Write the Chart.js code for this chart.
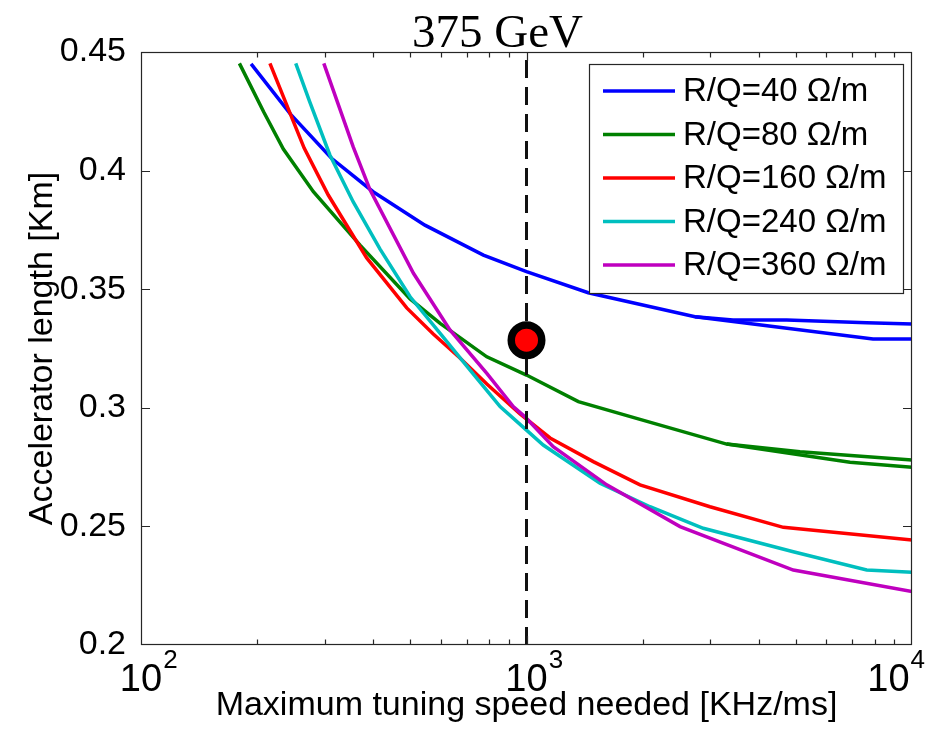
<!DOCTYPE html>
<html>
<head>
<meta charset="utf-8">
<script src="https://cdn.jsdelivr.net/npm/chart.js@4/dist/chart.umd.min.js"></script>
<style>
html,body{margin:0;padding:0;background:#fff;}
#wrap{width:937px;height:738px;}
</style>
</head>
<body>
<div id="wrap"><canvas id="c" width="937" height="738"></canvas></div>
<script>
// ---------- text ----------
const titleText = '375 GeV';
const xAxisTitle = 'Maximum tuning speed needed [KHz/ms]';
const yAxisTitle = 'Accelerator length [Km]';
const seriesLabels = ['R/Q=40 \u03A9/m', 'R/Q=80 \u03A9/m', 'R/Q=160 \u03A9/m', 'R/Q=240 \u03A9/m', 'R/Q=360 \u03A9/m'];

// ---------- ticks ----------
const xTickValues = [100, 1000, 10000];
const xTickBase = '10';
const xTickExponents = ['2', '3', '4'];
const yTickValues = [0.2, 0.25, 0.3, 0.35, 0.4, 0.45];
const yTickLabels = ['0.2', '0.25', '0.3', '0.35', '0.4', '0.45'];

// ---------- data ----------
// R/Q = 40
const rq40X  = [193, 244.5, 312, 400, 545, 773, 1000, 1446, 2736, 3433, 4732, 7630, 10000];
const rq40Y  = [0.445, 0.4237, 0.4052, 0.3911, 0.377, 0.3644, 0.3574, 0.3485, 0.3384, 0.337, 0.337, 0.3359, 0.3353];
const rq40bX = [2736, 7923, 10000];
const rq40bY = [0.3384, 0.329, 0.329];
// R/Q = 80
const rq80X  = [180, 208, 234, 280, 370, 499, 597, 789, 1000, 1363, 1970, 3305, 5123, 10000];
const rq80Y  = [0.4452, 0.4248, 0.4091, 0.3911, 0.3686, 0.3459, 0.3356, 0.3215, 0.3138, 0.3026, 0.2951, 0.2847, 0.2815, 0.278];
const rq80bX = [3305, 6906, 10000];
const rq80bY = [0.2847, 0.277, 0.2749];
// R/Q = 160
const rq160X = [216, 243.5, 265, 306, 385, 489, 573, 672, 789, 962, 1151, 1490, 1970, 2992, 4637, 10000];
const rq160Y = [0.4452, 0.4242, 0.4095, 0.3897, 0.3632, 0.3421, 0.3311, 0.321, 0.31, 0.2974, 0.2873, 0.2773, 0.2675, 0.2583, 0.2496, 0.2443];
// R/Q = 240
const rq240X = [252, 274, 309, 355, 417, 499, 597, 714, 854, 1000, 1105, 1551, 2091, 2874, 4921, 7630, 10000];
const rq240Y = [0.4452, 0.429, 0.4066, 0.3869, 0.3669, 0.3468, 0.3314, 0.3159, 0.3005, 0.2906, 0.2843, 0.2682, 0.2583, 0.2492, 0.2393, 0.2316, 0.2307];
// R/Q = 360
const rq360X = [298, 355, 393, 509, 633, 789, 924, 991, 1173, 1615, 2502, 4921, 10000];
const rq360Y = [0.4452, 0.4101, 0.3918, 0.3567, 0.3328, 0.3145, 0.3005, 0.2962, 0.2836, 0.2675, 0.2499, 0.2316, 0.2225];

// reference line and design point
const refLineX = [1000, 1000];
const refLineY = [0.2, 0.45];
const pointX = [1000];
const pointY = [0.3285];

// ---------- styles ----------
const seriesColors = ['#0000FF', '#008000', '#FF0000', '#00BFBF', '#BF00BF'];
const FRAME = '#262626';
const SANS = '"Liberation Sans", Arial, Helvetica, sans-serif';

function pts(xs, ys) { return xs.map((x, i) => ({x: x, y: ys[i]})); }
function curve(xs, ys, ci, order, legend) {
  return {
    label: legend ? seriesLabels[ci] : '',
    inLegend: legend,
    data: pts(xs, ys),
    borderColor: seriesColors[ci],
    backgroundColor: seriesColors[ci],
    borderWidth: 3.5,
    pointRadius: 0,
    pointHoverRadius: 0,
    tension: 0,
    fill: false,
    order: order
  };
}

const datasets = [
  {
    label: 'point', data: pts(pointX, pointY), showLine: false,
    pointRadius: 15.25, pointBorderWidth: 7.5, pointHoverRadius: 15.25,
    pointBackgroundColor: '#FF0000', pointBorderColor: '#000000',
    backgroundColor: '#FF0000', borderColor: '#000000', order: 0
  },
  {
    label: 'ref', data: pts(refLineX, refLineY), borderColor: '#111111',
    borderWidth: 3, borderDash: [18, 9], pointRadius: 0, tension: 0, fill: false, order: 1
  },
  curve(rq40X, rq40Y, 0, 20, true),
  curve(rq40bX, rq40bY, 0, 21, false),
  curve(rq80X, rq80Y, 1, 18, true),
  curve(rq80bX, rq80bY, 1, 19, false),
  curve(rq160X, rq160Y, 2, 16, true),
  curve(rq240X, rq240Y, 3, 14, true),
  curve(rq360X, rq360Y, 4, 12, true)
];

// frame with inward ticks (MATLAB style) + x tick labels with exponents
const framePlugin = {
  id: 'frame',
  afterLayout(chart) {
    const t = chart.titleBlock;
    if (t) { t.left = 83; }
  },
  afterDatasetsDraw(chart) {
    const {ctx, chartArea: a, scales: {x, y}} = chart;
    const W = chart.width;
    ctx.save();
    ctx.strokeStyle = FRAME;
    ctx.lineWidth = 1.2;
    ctx.strokeRect(a.left + 0.5, a.top + 0.5, a.right - a.left - 1, a.bottom - a.top - 1);
    ctx.beginPath();
    for (let d = 100; d < 10000; d *= 10) {
      for (let m = 1; m <= 10; m++) {
        const v = d * m;
        const px = Math.round(x.getPixelForValue(v)) + 0.5;
        if (px < a.left + 1 || px > a.right - 1) continue;
        const len = (m === 1 || m === 10) ? 9 : 5.5;
        ctx.moveTo(px, a.bottom); ctx.lineTo(px, a.bottom - len);
        ctx.moveTo(px, a.top); ctx.lineTo(px, a.top + len);
      }
    }
    yTickValues.forEach(v => {
      const py = Math.round(y.getPixelForValue(v)) + 0.5;
      if (py < a.top + 1 || py > a.bottom - 1) return;
      ctx.moveTo(a.left, py); ctx.lineTo(a.left + 9, py);
      ctx.moveTo(a.right, py); ctx.lineTo(a.right - 9, py);
    });
    ctx.stroke();

    // x tick labels: base "10" with raised exponent
    ctx.fillStyle = '#000';
    ctx.textBaseline = 'alphabetic';
    ctx.textAlign = 'left';
    xTickValues.forEach((v, i) => {
      const px = x.getPixelForValue(v);
      ctx.font = '38px ' + SANS;
      const wb = ctx.measureText(xTickBase).width;
      ctx.font = '26px ' + SANS;
      const we = ctx.measureText(xTickExponents[i]).width;
      let left = px - wb / 2;
      left = Math.min(left, W - 12 - (wb + 1 + we));
      ctx.font = '38px ' + SANS;
      ctx.fillText(xTickBase, left, a.bottom + 46);
      ctx.font = '26px ' + SANS;
      ctx.fillText(xTickExponents[i], left + wb + 1, a.bottom + 23);
    });
    ctx.restore();
  }
};

// boxed legend inside the plot, top-right
const legendPlugin = {
  id: 'boxLegend',
  afterDraw(chart) {
    const {ctx, chartArea: a} = chart;
    const items = chart.data.datasets.filter(d => d.inLegend);
    const bw = 314, bh = 229;
    const bx = a.right - 323, by = a.top + 12;
    ctx.save();
    ctx.fillStyle = '#ffffff';
    ctx.fillRect(bx, by, bw, bh);
    ctx.strokeStyle = FRAME;
    ctx.lineWidth = 1.2;
    ctx.strokeRect(bx + 0.5, by + 0.5, bw, bh);
    ctx.font = '33px ' + SANS;
    ctx.textBaseline = 'middle';
    ctx.textAlign = 'left';
    items.forEach((d, i) => {
      const cy = by + 27 + i * 43.5;
      ctx.strokeStyle = d.borderColor;
      ctx.lineWidth = 3.5;
      ctx.beginPath();
      ctx.moveTo(bx + 14, cy); ctx.lineTo(bx + 86, cy);
      ctx.stroke();
      ctx.fillStyle = '#000';
      ctx.fillText(d.label, bx + 94, cy + 1);
    });
    ctx.restore();
  }
};

Chart.defaults.font.family = SANS;
Chart.defaults.color = '#000';

new Chart(document.getElementById('c'), {
  type: 'line',
  data: {datasets: datasets},
  options: {
    responsive: false,
    animation: false,
    devicePixelRatio: 1,
    layout: {padding: {top: 0, left: 0, right: 25, bottom: 0}},
    plugins: {
      legend: {display: false},
      tooltip: {enabled: false},
      title: {
        display: true, text: titleText, color: '#000',
        font: {family: '"Liberation Serif", "Times New Roman", serif', size: 47, weight: 'normal', lineHeight: '30px'},
        padding: {top: 19.5, bottom: 2.5}
      }
    },
    scales: {
      x: {
        type: 'logarithmic', min: 100, max: 10000,
        afterBuildTicks: s => { s.ticks = xTickValues.map(v => ({value: v, major: true})); },
        afterFit: s => { s.height = 93; s.paddingLeft = 0; s.paddingRight = 0; },
        ticks: {display: false, autoSkip: false},
        grid: {display: false},
        border: {display: false},
        title: {display: true, text: xAxisTitle, font: {size: 34}, padding: {top: 0, bottom: 11.6}, color: '#000'}
      },
      y: {
        type: 'linear', min: 0.2, max: 0.45,
        afterBuildTicks: s => { s.ticks = yTickValues.map(v => ({value: v})); },
        afterFit: s => { s.width = 141; },
        ticks: {
          padding: 7, autoSkip: false,
          font: {size: 34},
          callback: v => { const i = yTickValues.findIndex(t => Math.abs(t - v) < 1e-9); return i >= 0 ? yTickLabels[i] : ''; }
        },
        grid: {display: false},
        border: {display: false},
        title: {display: true, text: yAxisTitle, font: {size: 34}, padding: {top: 22, bottom: 0}, color: '#000'}
      }
    }
  },
  plugins: [framePlugin, legendPlugin]
});
</script>
</body>
</html>
